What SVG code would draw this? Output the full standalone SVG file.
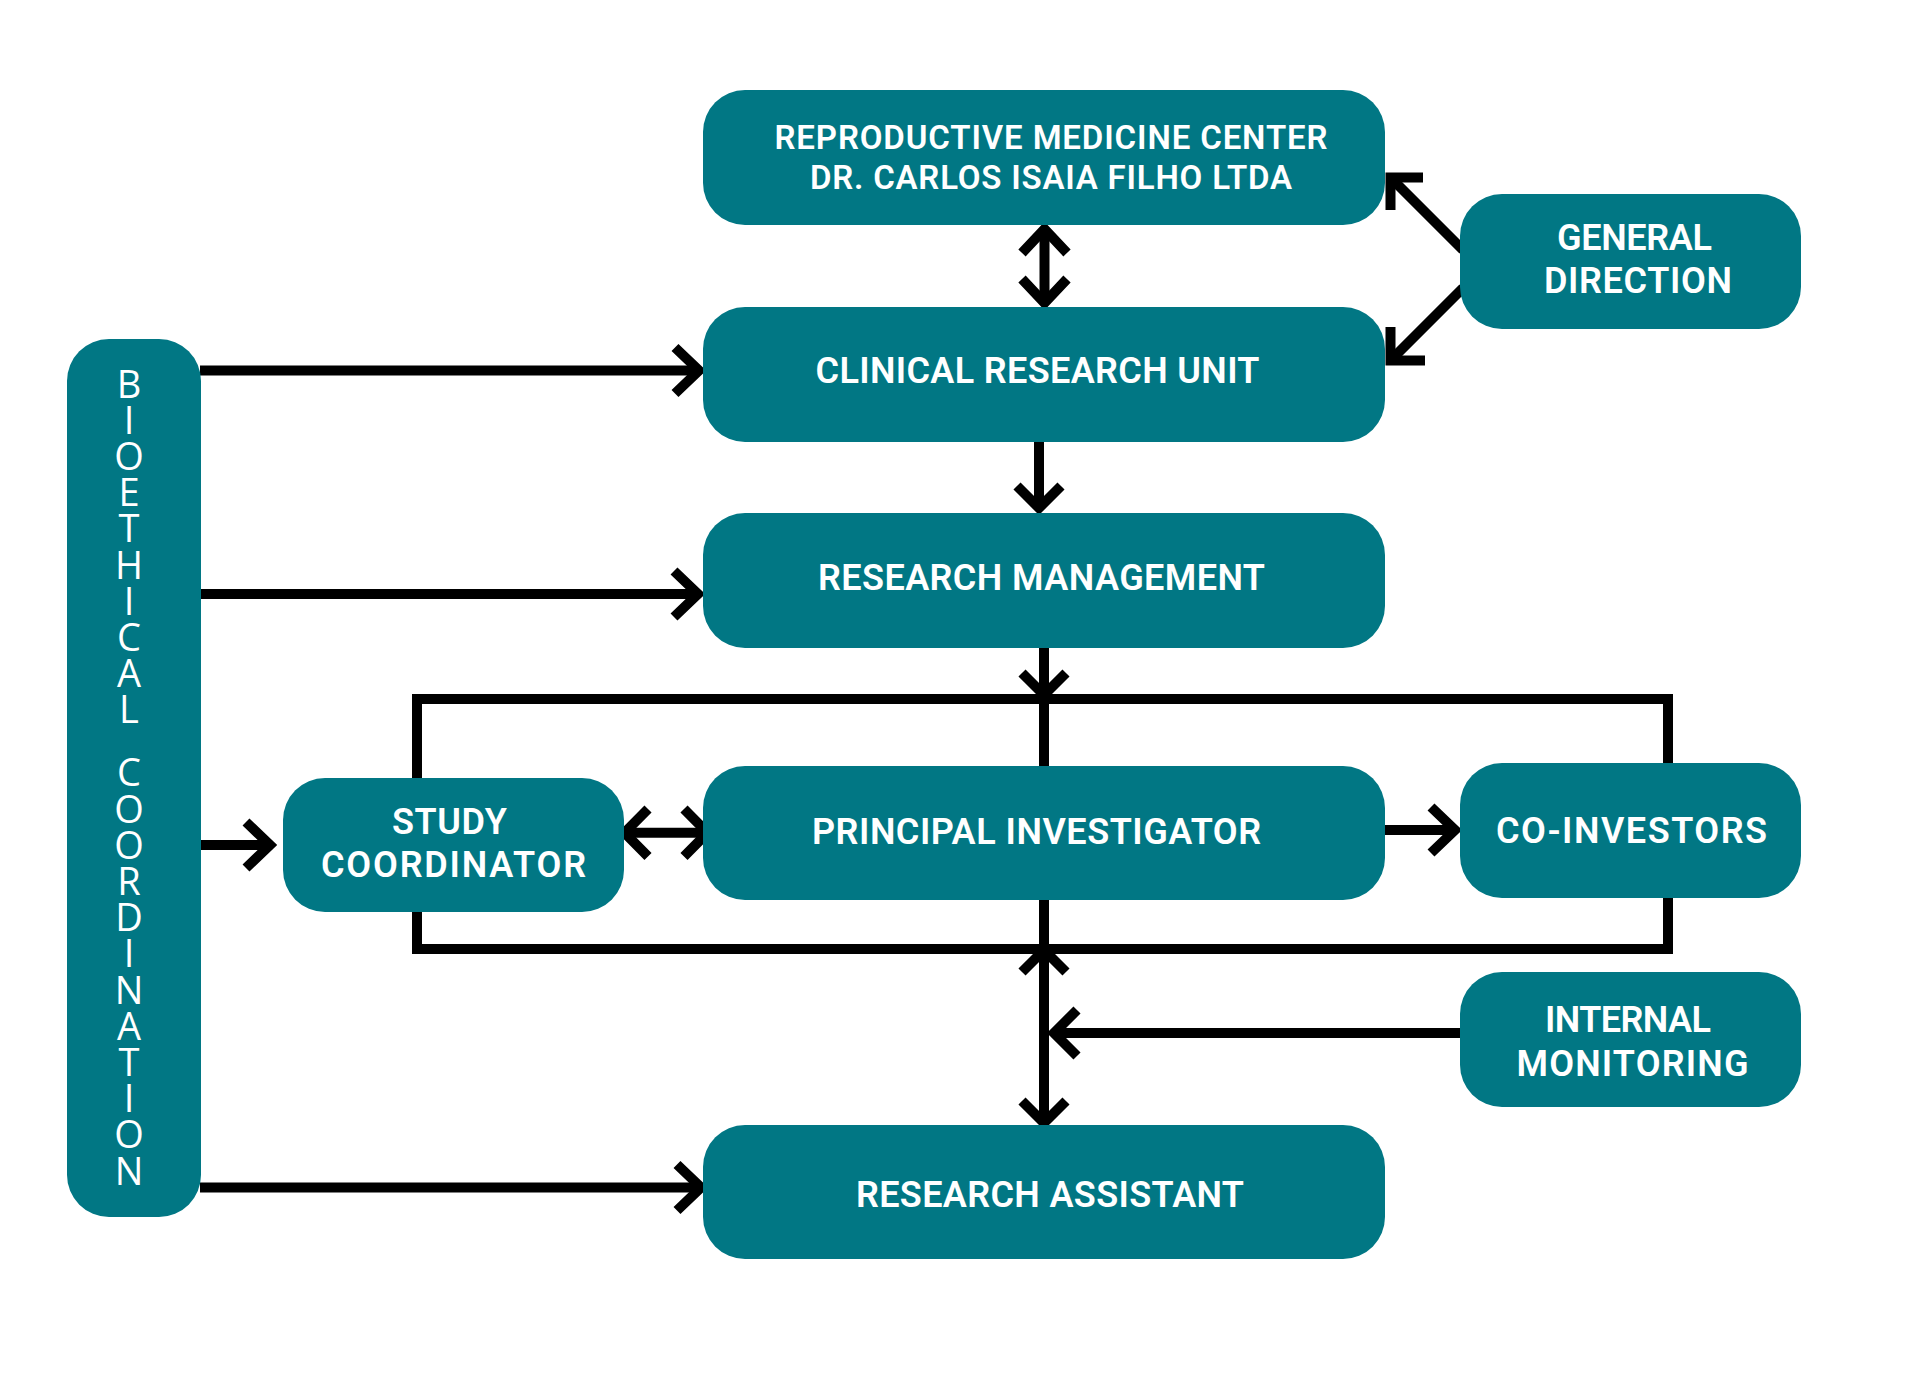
<svg xmlns="http://www.w3.org/2000/svg" width="1920" height="1393" viewBox="0 0 1920 1393">
<style>
.box{fill:#017784}
.t{font-family:Roboto,"Liberation Sans",sans-serif;font-weight:600;font-size:36px;fill:#ffffff;text-anchor:middle}
.t.s{font-size:33px}
.v{font-family:"Open Sans","Liberation Sans",sans-serif;font-weight:500;font-size:38px;fill:#ffffff;writing-mode:vertical-rl;text-orientation:upright;letter-spacing:-15.8px;word-spacing:-9.3px}
.ln{fill:none;stroke:#000;stroke-width:10;stroke-linecap:butt;stroke-linejoin:miter}
</style>
<rect width="1920" height="1393" fill="#ffffff"/>
<g id="connectors">
  <rect class="ln" x="417" y="699" width="1251" height="250" stroke-width="10.5"/>
  <line class="ln" x1="1044.5" y1="228" x2="1044.5" y2="303"/>
  <polyline class="ln" points="1022,253 1044.5,229 1067,253"/>
  <polyline class="ln" points="1022,279 1044.5,303 1067,279"/>
  <line class="ln" x1="1392" y1="179" x2="1463" y2="250" stroke-width="11"/>
  <polyline class="ln" points="1423,177.5 1390.5,177.5 1390.5,210" stroke-width="11"/>
  <line class="ln" x1="1392" y1="359" x2="1463" y2="288" stroke-width="11"/>
  <polyline class="ln" points="1425,360.5 1390.5,360.5 1390.5,327" stroke-width="11"/>
  <line class="ln" x1="1039" y1="442" x2="1039" y2="506"/>
  <polyline class="ln" points="1017,486 1039,508 1061,486"/>
  <line class="ln" x1="1044" y1="644" x2="1044" y2="768"/>
  <polyline class="ln" points="1022,673 1044,695 1066,673"/>
  <line class="ln" x1="1044" y1="899" x2="1044" y2="1121"/>
  <polyline class="ln" points="1022,972 1044,950 1066,972"/>
  <polyline class="ln" points="1022,1101 1044,1123 1066,1101"/>
  <line class="ln" x1="1460" y1="1033" x2="1055" y2="1033"/>
  <polyline class="ln" points="1077,1010 1054,1033 1077,1056"/>
  <line class="ln" x1="624" y1="832.7" x2="708" y2="832.7"/>
  <polyline class="ln" points="648,809 624.5,832.7 648,856.5"/>
  <polyline class="ln" points="684,809 707.5,832.7 684,856.5"/>
  <line class="ln" x1="1382" y1="830" x2="1456" y2="830"/>
  <polyline class="ln" points="1431,807 1455,830 1431,853"/>
  <line class="ln" x1="200" y1="370.5" x2="700" y2="370.5"/>
  <polyline class="ln" points="675,347.5 699,370.5 675,393.5"/>
  <line class="ln" x1="194" y1="594" x2="699" y2="594"/>
  <polyline class="ln" points="674,571 698,594 674,617"/>
  <line class="ln" x1="198" y1="845" x2="270" y2="845"/>
  <polyline class="ln" points="246,822 270,845 246,868"/>
  <line class="ln" x1="200" y1="1187.5" x2="701" y2="1187.5"/>
  <polyline class="ln" points="677,1164.5 701,1187.5 677,1210.5"/>
</g>
<g id="reproductive-medicine-center">
  <rect class="box" x="703" y="90" width="682" height="135" rx="42"/>
  <text class="t s" x="1051" y="149" textLength="553">REPRODUCTIVE MEDICINE CENTER</text>
  <text class="t s" x="1051" y="189" textLength="482">DR. CARLOS ISAIA FILHO LTDA</text>
</g>
<g id="general-direction">
  <rect class="box" x="1460" y="194" width="341" height="135" rx="42"/>
  <text class="t" x="1634.5" y="250" textLength="155">GENERAL</text>
  <text class="t" x="1638" y="293" textLength="188">DIRECTION</text>
</g>
<g id="clinical-research-unit">
  <rect class="box" x="703" y="307" width="682" height="135" rx="42"/>
  <text class="t" x="1037.5" y="383" textLength="444">CLINICAL RESEARCH UNIT</text>
</g>
<g id="research-management">
  <rect class="box" x="703" y="513" width="682" height="135" rx="42"/>
  <text class="t" x="1041.5" y="590" textLength="447">RESEARCH MANAGEMENT</text>
</g>
<g id="study-coordinator">
  <rect class="box" x="283" y="778" width="341" height="134" rx="42"/>
  <text class="t" x="449.5" y="834" textLength="115">STUDY</text>
  <text class="t" x="453.5" y="877" textLength="265">COORDINATOR</text>
</g>
<g id="principal-investigator">
  <rect class="box" x="703" y="766" width="682" height="134" rx="42"/>
  <text class="t" x="1036.5" y="844" textLength="449">PRINCIPAL INVESTIGATOR</text>
</g>
<g id="co-investors">
  <rect class="box" x="1460" y="763" width="341" height="135" rx="42"/>
  <text class="t" x="1631.5" y="843" textLength="271">CO-INVESTORS</text>
</g>
<g id="internal-monitoring">
  <rect class="box" x="1460" y="972" width="341" height="135" rx="42"/>
  <text class="t" x="1628" y="1032" textLength="166">INTERNAL</text>
  <text class="t" x="1632.5" y="1076" textLength="232">MONITORING</text>
</g>
<g id="research-assistant">
  <rect class="box" x="703" y="1125" width="682" height="134" rx="42"/>
  <text class="t" x="1050" y="1207" textLength="388">RESEARCH ASSISTANT</text>
</g>
<g id="bioethical-coordination">
  <rect class="box" x="67" y="339" width="134" height="878" rx="42"/>
  <text class="v" x="129" y="356.6">BIOETHICAL COORDINATION</text>
</g>
</svg>
